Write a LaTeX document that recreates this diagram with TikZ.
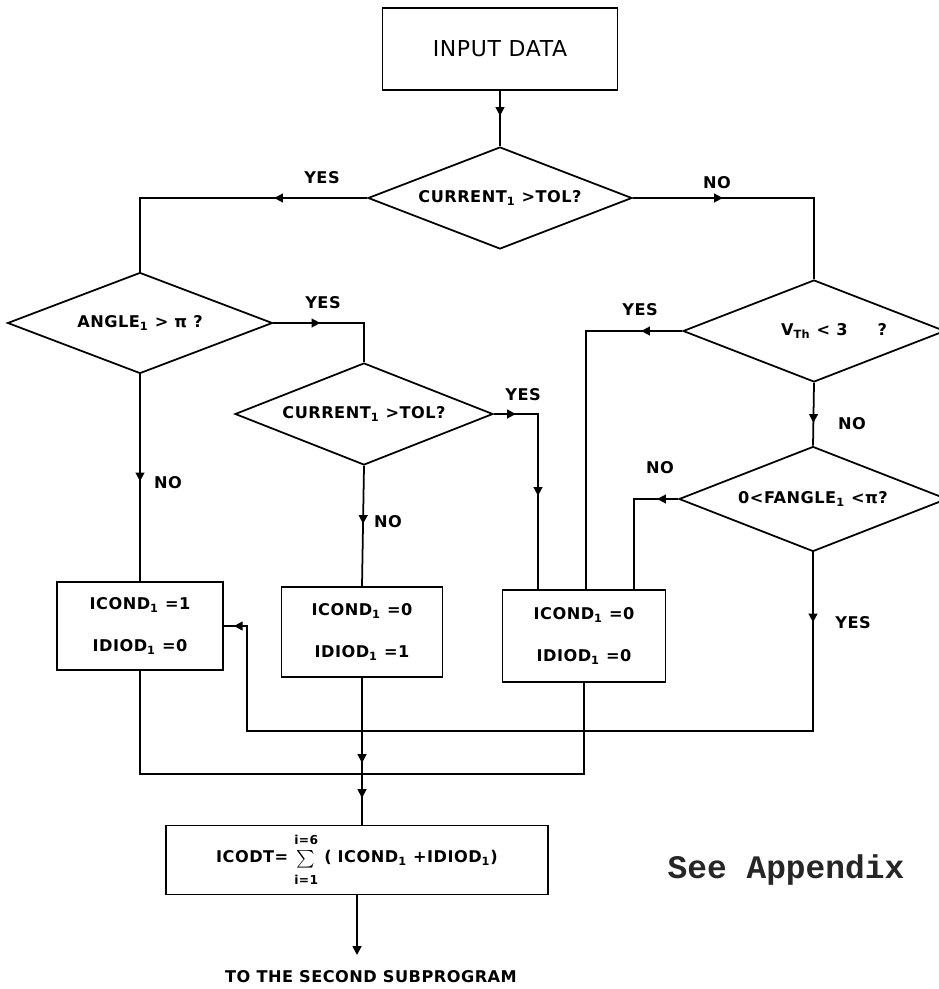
\documentclass[tikz,border=0pt]{standalone}
\usepackage{fontspec}
\setmainfont{DejaVu Sans}[LetterSpace=3]
\newfontfamily\typefont{Liberation Mono}
\usetikzlibrary{shapes.geometric,arrows.meta,decorations.markings}

\begin{document}
\begin{tikzpicture}[x=0.02cm,y=-0.02cm,line width=1pt,
    font=\bfseries\fontsize{9.2}{24}\selectfont,
    box/.style={draw,align=center,inner sep=0pt},
    decision/.style={draw,diamond,aspect=2.6,inner sep=0pt},
    lbl/.style={inner sep=1pt},
    tipat/.style={postaction={decorate,decoration={markings,
        mark=at position #1 with {\arrow{Triangle[length=5pt,width=5pt]}}}}}]
    \useasboundingbox (0,0) rectangle (938,989);

    \node[box,minimum width=4.7cm,minimum height=1.64cm,font=\mdseries\fontsize{12.5}{15}\selectfont] (input) at (500,49) {INPUT DATA};
    \node[decision,minimum width=5.28cm,minimum height=2.04cm] (cur) at (500,198) {CURRENT\textsubscript{1} >TOL?};
    \node[decision,minimum width=5.3cm,minimum height=2.02cm] (ang) at (140,323) {ANGLE\textsubscript{1} > π ?};
    \node[decision,minimum width=5.16cm,minimum height=2.04cm] (cur2) at (364,414) {CURRENT\textsubscript{1} >TOL?};
    \node[decision,minimum width=5.24cm,minimum height=2.04cm] (vth) at (814,331) {\hspace*{0.8cm}V\textsubscript{Th} < 3\hspace{0.6cm}?};
    \node[decision,minimum width=5.36cm,minimum height=2.1cm] (fan) at (813,499) {0<FANGLE\textsubscript{1} <π?};

    \node[box,minimum width=3.32cm,minimum height=1.76cm] (box1) at (140,626) {ICOND\textsubscript{1} =1\\IDIOD\textsubscript{1} =0};
    \node[box,minimum width=3.22cm,minimum height=1.8cm] (box2) at (362,632) {ICOND\textsubscript{1} =0\\IDIOD\textsubscript{1} =1};
    \node[box,minimum width=3.26cm,minimum height=1.84cm] (box3) at (584,636) {ICOND\textsubscript{1} =0\\IDIOD\textsubscript{1} =0};
    \node[box,minimum width=7.64cm,minimum height=1.38cm] (final) at (357,860)
        {ICODT= $\sum\limits^{\hbox{\fontsize{7}{8}\selectfont i=6}\rule[-2pt]{0pt}{0pt}}_{\hbox{\fontsize{7}{8}\selectfont i=1}\rule{0pt}{8pt}}$ ( ICOND\textsubscript{1} +IDIOD\textsubscript{1})};

    \node[lbl] (out) at (371,977) {TO THE SECOND SUBPROGRAM};
    \node[font={\typefont\bfseries\fontsize{18.7}{22}\selectfont},text=black!85] (see) at (786,870) {See Appendix};

    \coordinate (c4) at (538,0);
    \coordinate (c5) at (586,0);
    \coordinate (c6) at (634,0);
    \coordinate (c7) at (247,731);
    \coordinate (join) at (362,774);
    \coordinate (end) at (357,955);

    % connectors
    \draw[tipat=0.5cm] (input) -- (cur);
    \draw[tipat=1.86cm] (cur.west) -| (ang.north);
    \draw[tipat=1.8cm] (cur.east) -| (vth.north);
    \draw[tipat=0.94cm] (ang.east) -| (cur2.north);
    \draw[tipat=2.14cm] (ang.south) -- (box1.north);
    \draw[tipat=1.16cm] (cur2.south) -- (box2.north);
    \draw[tipat=0.44cm,tipat=2.52cm] (cur2.east) -| (c4 |- box3.north);
    \draw[tipat=0.82cm] (vth.west) -| (c5 |- box3.north);
    \draw[tipat=0.8cm] (vth.south) -- (fan.north);
    \draw[tipat=0.42cm] (fan.west) -| (c6 |- box3.north);
    \draw[tipat=1.4cm,tipat=-0.2cm] (fan.south) |- (c7) |- (box1.east);
    \draw (box1.south) |- (join);
    \draw[tipat=-0.22cm] (box2.south) -- (join);
    \draw (box3.south) |- (join);
    \draw[tipat=0.48cm] (join) -- (join |- final.north);
    \draw[-{Triangle[length=5pt,width=5pt]}] (final.south) -- (end);

    \node[lbl] (y1) at (322,178) {YES};
    \node[lbl] (n1) at (717,183) {NO};
    \node[lbl] (y2) at (323,303) {YES};
    \node[lbl] (n2) at (168,483) {NO};
    \node[lbl] (n3) at (388,522) {NO};
    \node[lbl] (y3) at (523,395) {YES};
    \node[lbl] (y4) at (640,310) {YES};
    \node[lbl] (n4) at (852,424) {NO};
    \node[lbl] (n5) at (660,468) {NO};
    \node[lbl] (y5) at (853,623) {YES};
\end{tikzpicture}
\end{document}
